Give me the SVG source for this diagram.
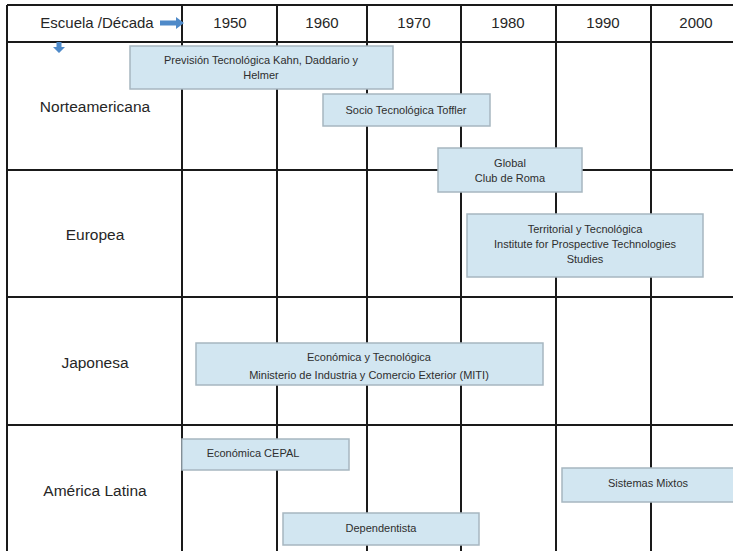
<svg xmlns="http://www.w3.org/2000/svg" width="733" height="551" viewBox="0 0 733 551">
<style>
.grid{stroke:#1a1a1a;stroke-width:2;fill:none}
.hdr{font-family:"Liberation Sans",Arial,sans-serif;font-size:15px;fill:#262626;text-anchor:middle}
.row{font-family:"Liberation Sans",Arial,sans-serif;font-size:15.5px;fill:#262626;text-anchor:middle}
.box{fill:#d2e6f1;stroke:#a7b6c0;stroke-width:1.5}
.bt{font-family:"Liberation Sans",Arial,sans-serif;font-size:11px;fill:#2e2e2e;text-anchor:middle}
.arr{fill:#4f8ac9}
</style>
<rect width="733" height="551" fill="#fff"/>
<g id="grid">
<line class="grid" x1="7" y1="5" x2="733" y2="5"/>
<line class="grid" x1="7" y1="42" x2="733" y2="42"/>
<line class="grid" x1="7" y1="170" x2="733" y2="170"/>
<line class="grid" x1="7" y1="297" x2="733" y2="297"/>
<line class="grid" x1="7" y1="425" x2="733" y2="425"/>
<line class="grid" x1="7" y1="5" x2="7" y2="551"/>
<line class="grid" x1="182" y1="5" x2="182" y2="551"/>
<line class="grid" x1="277" y1="5" x2="277" y2="551"/>
<line class="grid" x1="367" y1="5" x2="367" y2="551"/>
<line class="grid" x1="461" y1="5" x2="461" y2="551"/>
<line class="grid" x1="556" y1="5" x2="556" y2="551"/>
<line class="grid" x1="651" y1="5" x2="651" y2="551"/>
</g>
<g id="header">
<text class="hdr" x="97" y="28">Escuela /Década</text>
<text class="hdr" x="230" y="28">1950</text>
<text class="hdr" x="322" y="28">1960</text>
<text class="hdr" x="414" y="28">1970</text>
<text class="hdr" x="508" y="28">1980</text>
<text class="hdr" x="603" y="28">1990</text>
<text class="hdr" x="696" y="28">2000</text>
</g>
<g id="connectors">
<path class="arr" d="M160,20.5 H176 V17 L184,23 L176,29 V25.5 H160 Z"/>
<path class="arr" d="M56.5,42 V47 H53 L59,53 L65,47 H61.5 V42 Z"/>
</g>
<g id="rows">
<text class="row" x="95" y="112">Norteamericana</text>
<text class="row" x="95" y="240">Europea</text>
<text class="row" x="95" y="368">Japonesa</text>
<text class="row" x="95" y="496">América Latina</text>
</g>
<g id="prevision">
<rect class="box" x="130" y="46" width="263" height="43"/>
<text class="bt" x="261" y="64">Previsión Tecnológica Kahn, Daddario y</text>
<text class="bt" x="261" y="79">Helmer</text>
</g>
<g id="socio">
<rect class="box" x="323" y="94" width="167" height="32"/>
<text class="bt" x="406" y="114">Socio Tecnológica Toffler</text>
</g>
<g id="global">
<rect class="box" x="438" y="148" width="144" height="44"/>
<text class="bt" x="510" y="167">Global</text>
<text class="bt" x="510" y="182">Club de Roma</text>
</g>
<g id="territorial">
<rect class="box" x="467" y="214" width="236" height="63"/>
<text class="bt" x="585" y="233">Territorial y Tecnológica</text>
<text class="bt" x="585" y="248">Institute for Prospective Technologies</text>
<text class="bt" x="585" y="263">Studies</text>
</g>
<g id="miti">
<rect class="box" x="196" y="343" width="347" height="42"/>
<text class="bt" x="369" y="361">Económica y Tecnológica</text>
<text class="bt" x="369" y="379">Ministerio de Industria y Comercio Exterior (MITI)</text>
</g>
<g id="cepal">
<rect class="box" x="182" y="439" width="167" height="31"/>
<text class="bt" x="253" y="457">Económica CEPAL</text>
</g>
<g id="dependentista">
<rect class="box" x="283" y="513" width="196" height="32"/>
<text class="bt" x="381" y="532">Dependentista</text>
</g>
<g id="mixtos">
<rect class="box" x="562" y="468" width="172" height="34"/>
<text class="bt" x="648" y="487">Sistemas Mixtos</text>
</g>
</svg>
